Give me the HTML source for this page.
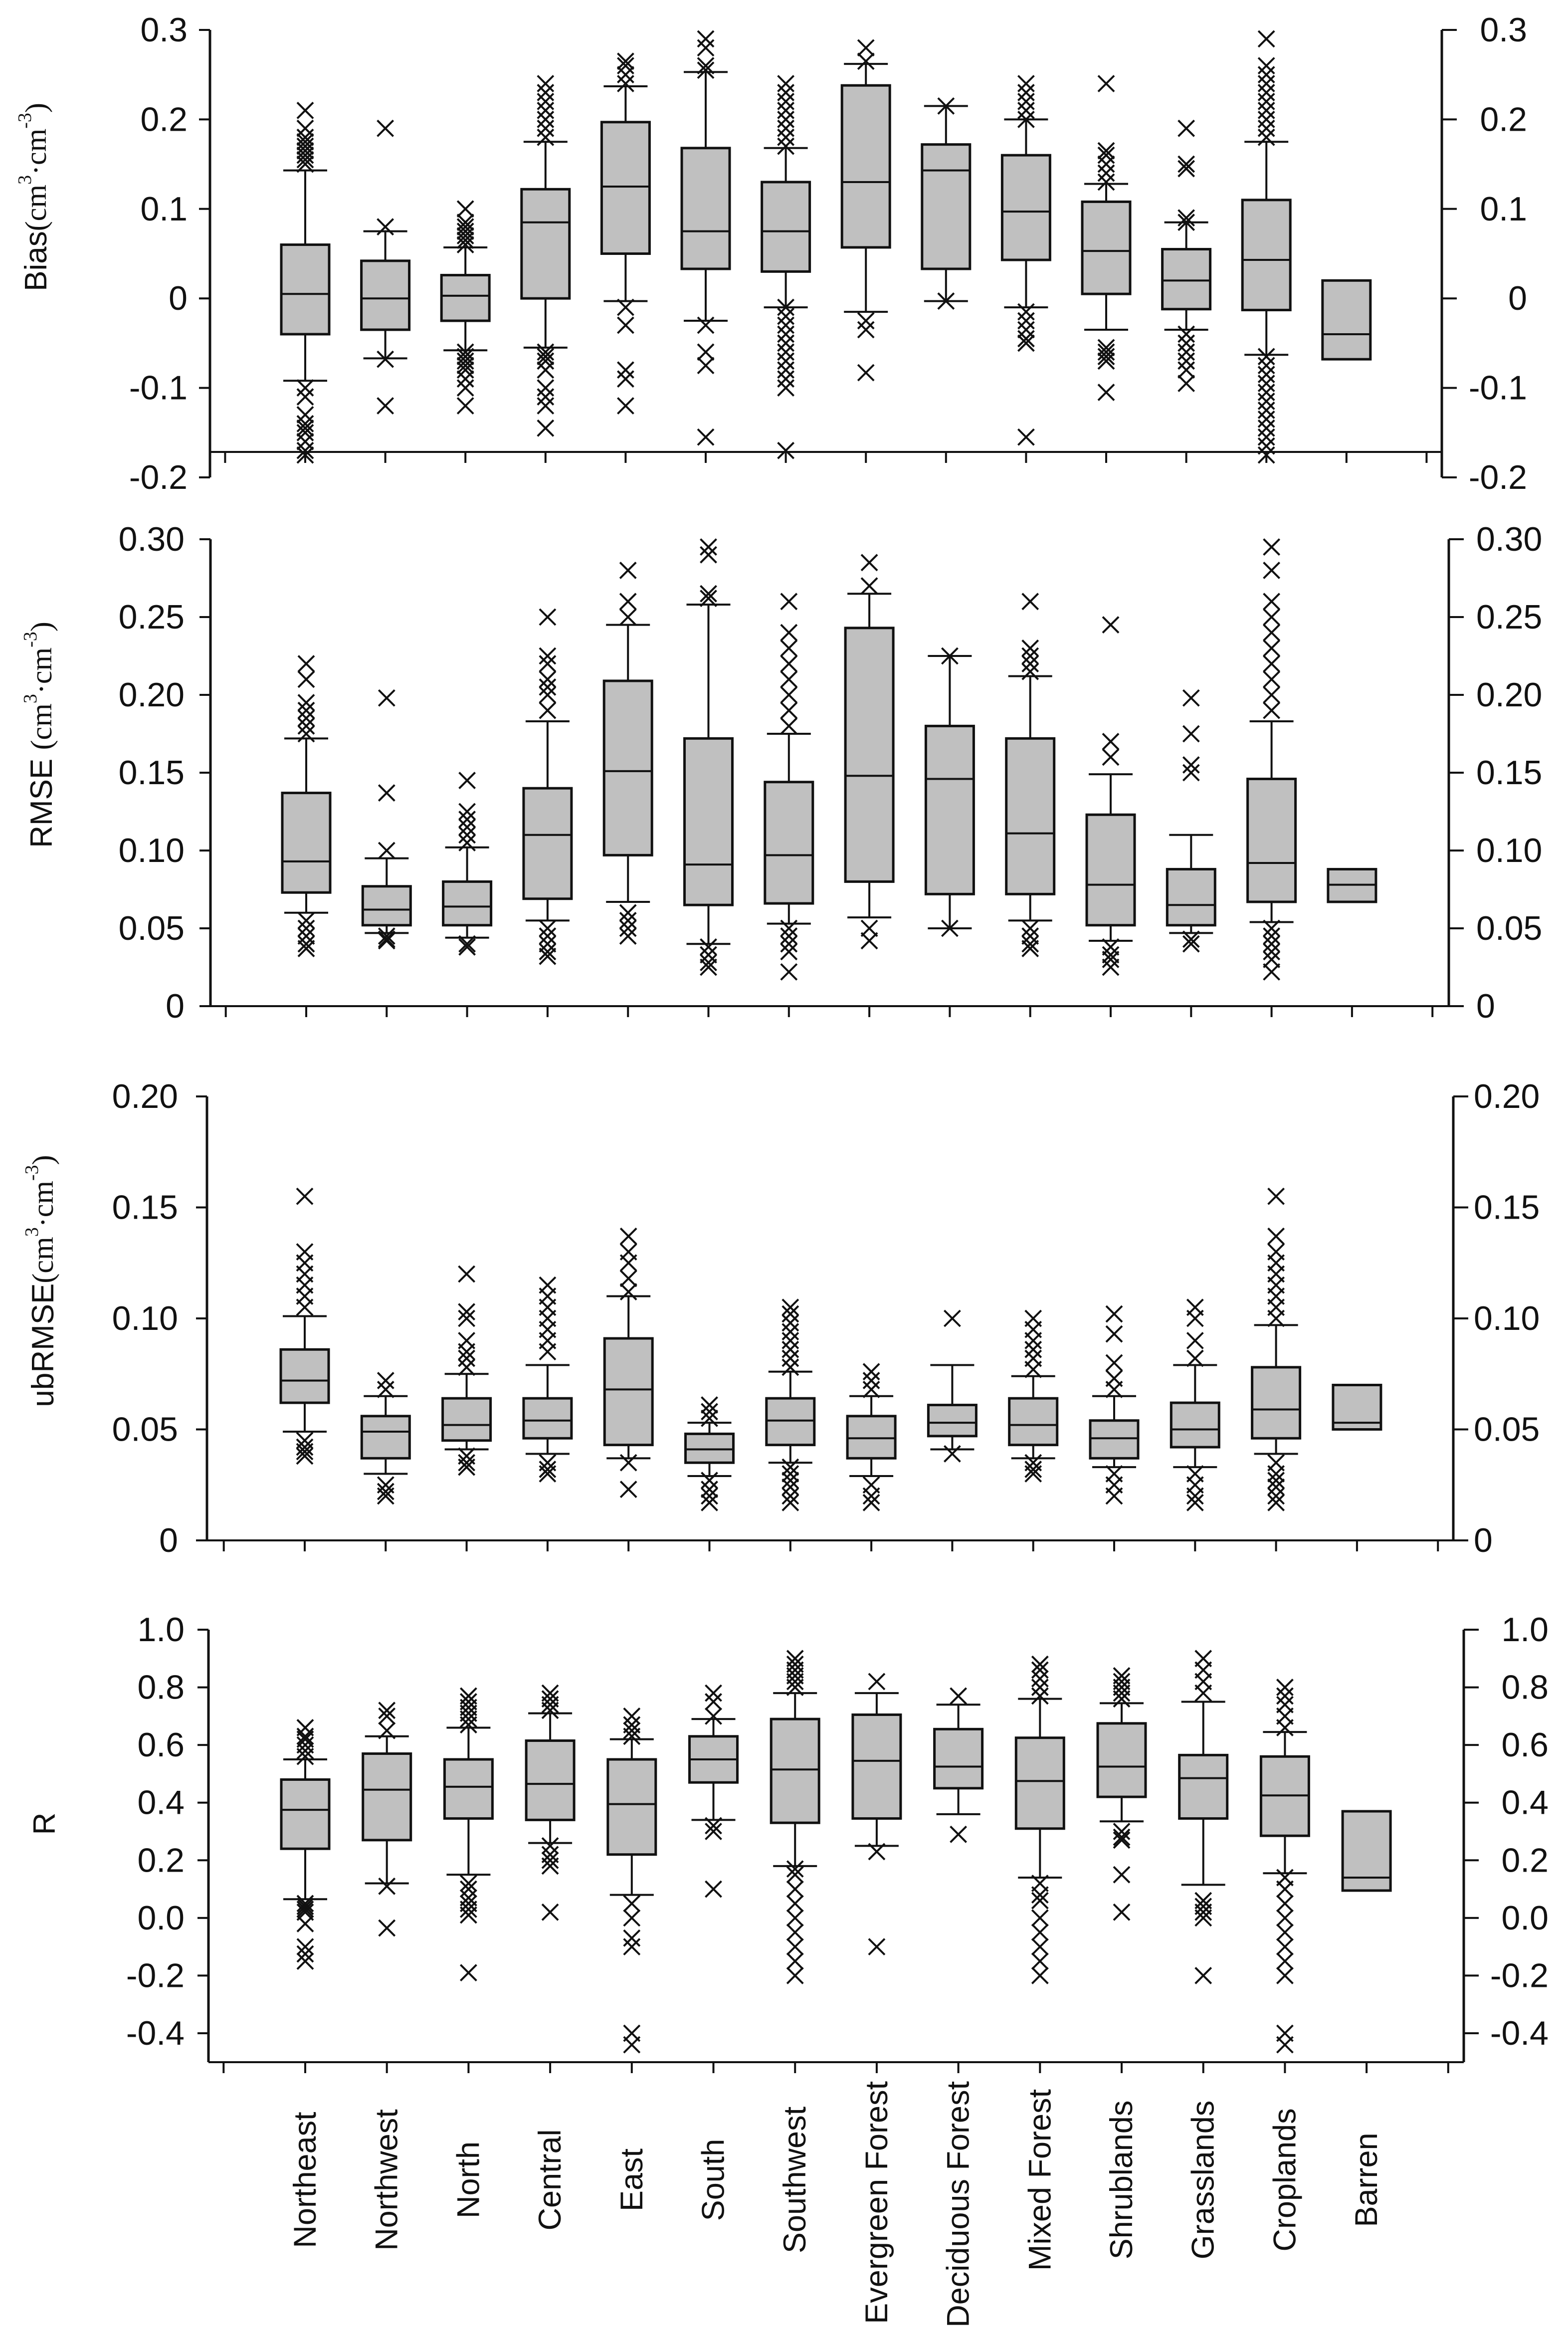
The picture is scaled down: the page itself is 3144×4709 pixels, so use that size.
<!DOCTYPE html>
<html><head><meta charset="utf-8"><style>
html,body{margin:0;padding:0;background:#fff;}
svg{display:block;}
text{font-family:"Liberation Sans","DejaVu Sans",sans-serif;fill:#111;}
.serif{font-family:"Liberation Serif",serif;}
</style></head><body>
<svg id="chart" xmlns="http://www.w3.org/2000/svg" width="3144" height="4709" viewBox="0 0 3144 4709"></svg>
<script>
const categories = ["Northeast","Northwest","North","Central","East","South","Southwest","Evergreen Forest","Deciduous Forest","Mixed Forest","Shrublands","Grasslands","Croplands","Barren"];

// Bias
const biasQ1  = [-0.04,-0.035,-0.025,0.0,0.05,0.033,0.03,0.057,0.033,0.043,0.005,-0.012,-0.013,-0.068];
const biasMed = [0.005,0.0,0.003,0.085,0.125,0.075,0.075,0.13,0.143,0.097,0.053,0.02,0.043,-0.04];
const biasQ3  = [0.06,0.042,0.026,0.122,0.197,0.168,0.13,0.238,0.172,0.16,0.108,0.055,0.11,0.02];
const biasLo  = [-0.092,-0.067,-0.058,-0.055,-0.003,-0.025,-0.01,-0.015,-0.003,-0.01,-0.035,-0.035,-0.063,null];
const biasHi  = [0.143,0.075,0.057,0.175,0.237,0.253,0.168,0.262,0.215,0.2,0.128,0.085,0.175,null];
const biasOut = [
 [0.15,0.155,0.16,0.165,0.17,0.175,0.18,0.19,0.21,-0.1,-0.11,-0.13,-0.14,-0.145,-0.15,-0.16,-0.17,-0.175],
 [0.08,0.19,-0.068,-0.12],
 [0.06,0.065,0.07,0.075,0.08,0.085,0.1,-0.06,-0.065,-0.07,-0.075,-0.08,-0.09,-0.1,-0.12],
 [0.18,0.19,0.2,0.21,0.22,0.23,0.24,-0.06,-0.065,-0.07,-0.08,-0.1,-0.11,-0.12,-0.145],
 [0.24,0.25,0.26,0.265,-0.01,-0.03,-0.08,-0.09,-0.12],
 [0.255,0.26,0.28,0.29,-0.03,-0.06,-0.075,-0.155],
 [0.17,0.18,0.19,0.2,0.21,0.22,0.23,0.24,-0.01,-0.02,-0.03,-0.04,-0.05,-0.06,-0.07,-0.08,-0.09,-0.1,-0.17],
 [0.265,0.28,-0.025,-0.035,-0.083],
 [0.215,-0.003],
 [0.2,0.21,0.22,0.23,0.24,-0.015,-0.025,-0.035,-0.045,-0.05,-0.155],
 [0.13,0.14,0.15,0.16,0.165,0.24,-0.055,-0.06,-0.065,-0.07,-0.105],
 [0.085,0.09,0.145,0.15,0.19,-0.04,-0.05,-0.06,-0.07,-0.08,-0.095],
 [0.18,0.19,0.2,0.21,0.22,0.23,0.24,0.25,0.26,0.29,-0.065,-0.075,-0.085,-0.095,-0.105,-0.115,-0.125,-0.135,-0.145,-0.155,-0.165,-0.175],
 []
];
const biasTicks = [0.3,0.2,0.1,0,-0.1,-0.2];
const biasTickLabels = ["0.3","0.2","0.1","0","-0.1","-0.2"];

// RMSE
const rmseQ1  = [0.073,0.052,0.052,0.069,0.097,0.065,0.066,0.08,0.072,0.072,0.052,0.052,0.067,0.067];
const rmseMed = [0.093,0.062,0.064,0.11,0.151,0.091,0.097,0.148,0.146,0.111,0.078,0.065,0.092,0.078];
const rmseQ3  = [0.137,0.077,0.08,0.14,0.209,0.172,0.144,0.243,0.18,0.172,0.123,0.088,0.146,0.088];
const rmseLo  = [0.06,0.047,0.044,0.055,0.067,0.04,0.053,0.057,0.05,0.055,0.042,0.047,0.054,null];
const rmseHi  = [0.172,0.095,0.102,0.183,0.245,0.258,0.175,0.265,0.225,0.212,0.149,0.11,0.183,null];
const rmseOut = [
 [0.175,0.18,0.185,0.19,0.195,0.21,0.22,0.055,0.05,0.045,0.04,0.037],
 [0.1,0.137,0.198,0.045,0.043,0.042],
 [0.105,0.11,0.115,0.12,0.125,0.145,0.04,0.038],
 [0.19,0.2,0.205,0.21,0.22,0.225,0.25,0.05,0.045,0.04,0.035,0.032],
 [0.25,0.26,0.28,0.06,0.055,0.05,0.045],
 [0.262,0.265,0.29,0.295,0.038,0.033,0.028,0.025],
 [0.18,0.19,0.2,0.21,0.22,0.23,0.24,0.26,0.05,0.045,0.04,0.035,0.022],
 [0.27,0.285,0.05,0.042],
 [0.225,0.05],
 [0.215,0.22,0.225,0.23,0.26,0.05,0.045,0.04,0.037],
 [0.16,0.17,0.245,0.038,0.033,0.03,0.025],
 [0.15,0.155,0.175,0.198,0.043,0.04],
 [0.19,0.2,0.21,0.22,0.23,0.24,0.25,0.26,0.28,0.295,0.05,0.045,0.04,0.035,0.03,0.022],
 []
];
const rmseTicks = [0.30,0.25,0.20,0.15,0.10,0.05,0];
const rmseTickLabels = ["0.30","0.25","0.20","0.15","0.10","0.05","0"];

// ubRMSE
const ubQ1  = [0.062,0.037,0.045,0.046,0.043,0.035,0.043,0.037,0.047,0.043,0.037,0.042,0.046,0.05];
const ubMed = [0.072,0.049,0.052,0.054,0.068,0.041,0.054,0.046,0.053,0.052,0.046,0.05,0.059,0.053];
const ubQ3  = [0.086,0.056,0.064,0.064,0.091,0.048,0.064,0.056,0.061,0.064,0.054,0.062,0.078,0.07];
const ubLo  = [0.049,0.03,0.041,0.039,0.037,0.029,0.035,0.029,0.041,0.037,0.033,0.033,0.039,null];
const ubHi  = [0.101,0.065,0.075,0.079,0.11,0.053,0.076,0.065,0.079,0.074,0.065,0.079,0.097,null];
const ubOut = [
 [0.105,0.11,0.115,0.12,0.125,0.13,0.155,0.045,0.042,0.04,0.038],
 [0.068,0.072,0.025,0.022,0.02],
 [0.078,0.082,0.085,0.09,0.1,0.103,0.12,0.038,0.035,0.033],
 [0.085,0.09,0.095,0.1,0.105,0.11,0.115,0.035,0.032,0.03],
 [0.112,0.118,0.125,0.13,0.137,0.035,0.023],
 [0.055,0.058,0.061,0.027,0.023,0.02,0.017],
 [0.078,0.082,0.086,0.09,0.094,0.098,0.102,0.105,0.033,0.03,0.027,0.024,0.02,0.017],
 [0.068,0.072,0.076,0.025,0.02,0.017],
 [0.1,0.039],
 [0.077,0.082,0.086,0.09,0.095,0.1,0.035,0.032,0.03],
 [0.068,0.073,0.08,0.093,0.102,0.03,0.025,0.02],
 [0.082,0.09,0.1,0.105,0.03,0.025,0.02,0.017],
 [0.1,0.105,0.11,0.115,0.12,0.125,0.13,0.137,0.155,0.035,0.03,0.027,0.024,0.02,0.017],
 []
];
const ubTicks = [0.20,0.15,0.10,0.05,0];
const ubTickLabels = ["0.20","0.15","0.10","0.05","0"];

// R
const rQ1  = [0.24,0.27,0.345,0.34,0.22,0.47,0.33,0.345,0.45,0.31,0.42,0.345,0.285,0.095];
const rMed = [0.375,0.445,0.455,0.465,0.395,0.55,0.515,0.545,0.525,0.475,0.525,0.485,0.425,0.14];
const rQ3  = [0.48,0.57,0.55,0.615,0.55,0.63,0.69,0.705,0.655,0.625,0.675,0.565,0.56,0.37];
const rLo  = [0.065,0.12,0.15,0.26,0.08,0.34,0.18,0.25,0.36,0.14,0.335,0.115,0.155,null];
const rHi  = [0.55,0.63,0.66,0.71,0.62,0.69,0.78,0.78,0.74,0.76,0.745,0.75,0.645,null];
const rOut = [
 [0.56,0.58,0.6,0.62,0.63,0.66,0.05,0.04,0.03,0.02,-0.02,-0.1,-0.125,-0.15],
 [0.65,0.7,0.72,0.11,-0.035],
 [0.67,0.69,0.71,0.73,0.75,0.77,0.12,0.1,0.07,0.05,0.03,0.01,-0.19],
 [0.72,0.74,0.76,0.78,0.25,0.22,0.2,0.18,0.02],
 [0.63,0.65,0.67,0.7,0.05,0.0,-0.07,-0.1,-0.4,-0.44],
 [0.7,0.75,0.78,0.32,0.3,0.1],
 [0.8,0.82,0.84,0.86,0.88,0.9,0.17,0.15,0.1,0.05,0.0,-0.05,-0.1,-0.15,-0.2],
 [0.82,0.23,-0.1],
 [0.77,0.29],
 [0.77,0.8,0.83,0.86,0.88,0.12,0.08,0.06,0.0,-0.05,-0.1,-0.15,-0.2],
 [0.76,0.78,0.8,0.82,0.84,0.3,0.28,0.27,0.15,0.02],
 [0.78,0.82,0.86,0.9,0.06,0.04,0.02,0.0,-0.2],
 [0.66,0.7,0.74,0.77,0.8,0.14,0.1,0.05,0.0,-0.05,-0.1,-0.15,-0.2,-0.4,-0.44],
 []
];
const rTicks = [1.0,0.8,0.6,0.4,0.2,0.0,-0.2,-0.4];
const rTickLabels = ["1.0","0.8","0.6","0.4","0.2","0.0","-0.2","-0.4"];

const NS = "http://www.w3.org/2000/svg";
const svg = document.getElementById("chart");
function mk(tag, attrs, parent){
  const e = document.createElementNS(NS, tag);
  for (const k in attrs) e.setAttribute(k, attrs[k]);
  (parent||svg).appendChild(e);
  return e;
}

const panels = [
 {key:"bias", q1:biasQ1, med:biasMed, q3:biasQ3, lo:biasLo, hi:biasHi, out:biasOut, ticks:biasTicks, labels:biasTickLabels,
  vTop:0.3, vBot:-0.2, yTop:60, yBot:957, xAxisY:906, left:421, right:2891, x0:612, dx:160.6, rAnchor:"end", rX:3062, lX:376,
  title:"Bias", tx:72, ty:395},
 {key:"rmse", q1:rmseQ1, med:rmseMed, q3:rmseQ3, lo:rmseLo, hi:rmseHi, out:rmseOut, ticks:rmseTicks, labels:rmseTickLabels,
  vTop:0.30, vBot:0, yTop:1081, yBot:2017, xAxisY:2017, left:422, right:2905, x0:614, dx:161.3, rAnchor:"start", rX:2960, lX:370,
  title:"RMSE ", tx:83, ty:1473},
 {key:"ubrmse", q1:ubQ1, med:ubMed, q3:ubQ3, lo:ubLo, hi:ubHi, out:ubOut, ticks:ubTicks, labels:ubTickLabels,
  vTop:0.20, vBot:0, yTop:2198, yBot:3088, xAxisY:3088, left:415, right:2914, x0:611, dx:162.3, rAnchor:"start", rX:2955, lX:357,
  title:"ubRMSE", tx:86, ty:2568},
 {key:"r", q1:rQ1, med:rMed, q3:rQ3, lo:rLo, hi:rHi, out:rOut, ticks:rTicks, labels:rTickLabels,
  vTop:1.0, vBot:-0.4, yTop:3267, yBot:4076, xAxisY:4134, left:418, right:2935, x0:612, dx:163.7, rAnchor:"end", rX:3105, lX:370,
  title:"R", tx:89, ty:3656}
];

panels.forEach(function(p){
  const g = mk("g", {});
  
  
  const y = v => p.yTop + (p.vTop - v) / (p.vTop - p.vBot) * (p.yBot - p.yTop);
  const x = i => p.x0 + i * p.dx;
  const axisBottom = Math.max(p.yBot, p.xAxisY);

  const la = mk("line", {x1:p.left, y1:p.yTop, x2:p.left, y2:axisBottom, stroke:"#111", "stroke-width":5}, g);
  
  
  const ra = mk("line", {x1:p.right, y1:p.yTop, x2:p.right, y2:axisBottom, stroke:"#111", "stroke-width":5}, g);
  
  
  const xa = mk("line", {x1:p.left, y1:p.xAxisY, x2:p.right, y2:p.xAxisY, stroke:"#111", "stroke-width":4}, g);
  
  
  for (let i = -1; i <= 14; i++) {
    const t = mk("line", {x1:x(i), y1:p.xAxisY, x2:x(i), y2:p.xAxisY + 22, stroke:"#111", "stroke-width":4}, g);
    
    
  }
  p.ticks.forEach(function(tv, k){
    const ty = y(tv);
    mk("line", {x1:p.left - 22, y1:ty, x2:p.left, y2:ty, stroke:"#111", "stroke-width":4}, g);
    mk("line", {x1:p.right, y1:ty, x2:p.right + 30, y2:ty, stroke:"#111", "stroke-width":4}, g);
    const lt = mk("text", {x:p.lX, y:ty, "text-anchor":"end", "dominant-baseline":"central", "font-size":68}, g);
    lt.textContent = p.labels[k];
    
    
    const rt = mk("text", {x:p.rX, y:ty, "text-anchor":p.rAnchor, "dominant-baseline":"central", "font-size":68}, g);
    rt.textContent = p.labels[k];
    
    
  });

  const tt = mk("text", {x:p.tx, y:p.ty, "text-anchor":"middle", "dominant-baseline":"central", "font-size":62, transform:"rotate(-90 " + p.tx + " " + p.ty + ")"}, g);
  
  
  const s1 = mk("tspan", {}, tt); s1.textContent = p.title;
  if (p.key !== "r") {
    const s2 = mk("tspan", {"class":"serif", "font-size":60}, tt); s2.textContent = "(cm";
    const s3 = mk("tspan", {"class":"serif", "font-size":38, dy:-22}, tt); s3.textContent = "3";
    const s4 = mk("tspan", {"class":"serif", "font-size":60, dy:22}, tt); s4.textContent = "·cm";
    const s5 = mk("tspan", {"class":"serif", "font-size":38, dy:-22}, tt); s5.textContent = "-3";
    const s6 = mk("tspan", {"class":"serif", "font-size":60, dy:22}, tt); s6.textContent = ")";
  }

  categories.forEach(function(c, i){
    const cx = x(i);
    const bg = mk("g", {}, g);
    
    
    if (p.lo[i] !== null) {
      mk("line", {x1:cx, y1:y(p.lo[i]), x2:cx, y2:y(p.q1[i]), stroke:"#111", "stroke-width":4}, bg);
      mk("line", {x1:cx, y1:y(p.hi[i]), x2:cx, y2:y(p.q3[i]), stroke:"#111", "stroke-width":4}, bg);
      mk("line", {x1:cx - 44, y1:y(p.lo[i]), x2:cx + 44, y2:y(p.lo[i]), stroke:"#111", "stroke-width":4}, bg);
      mk("line", {x1:cx - 44, y1:y(p.hi[i]), x2:cx + 44, y2:y(p.hi[i]), stroke:"#111", "stroke-width":4}, bg);
    }
    mk("rect", {x:cx - 48, y:y(p.q3[i]), width:96, height:y(p.q1[i]) - y(p.q3[i]), fill:"#c0c0c0", stroke:"#111", "stroke-width":5}, bg);
    mk("line", {x1:cx - 48, y1:y(p.med[i]), x2:cx + 48, y2:y(p.med[i]), stroke:"#111", "stroke-width":4}, bg);
    p.out[i].forEach(function(v){
      const oy = y(v), s = 16;
      const m = mk("path", {d:"M" + (cx - s) + " " + (oy - s) + "L" + (cx + s) + " " + (oy + s) + "M" + (cx + s) + " " + (oy - s) + "L" + (cx - s) + " " + (oy + s), stroke:"#111", "stroke-width":4, fill:"none"}, bg);
      
      
    });
  });
});

// category labels (bottom), centred around y=4370, never above 4172
const lp = panels[3];
categories.forEach(function(c, i){
  const cx = lp.x0 + i * lp.dx;
  const t = mk("text", {x:0, y:0, "text-anchor":"middle", "dominant-baseline":"central", "font-size":63});
  t.textContent = c;
  
  
  const len = t.getComputedTextLength ? t.getComputedTextLength() : 300;
  const cy = Math.max(4370, 4172 + len / 2);
  t.setAttribute("x", cx);
  t.setAttribute("y", cy);
  t.setAttribute("transform", "rotate(-90 " + cx + " " + cy + ")");
});
</script>
</body></html>
